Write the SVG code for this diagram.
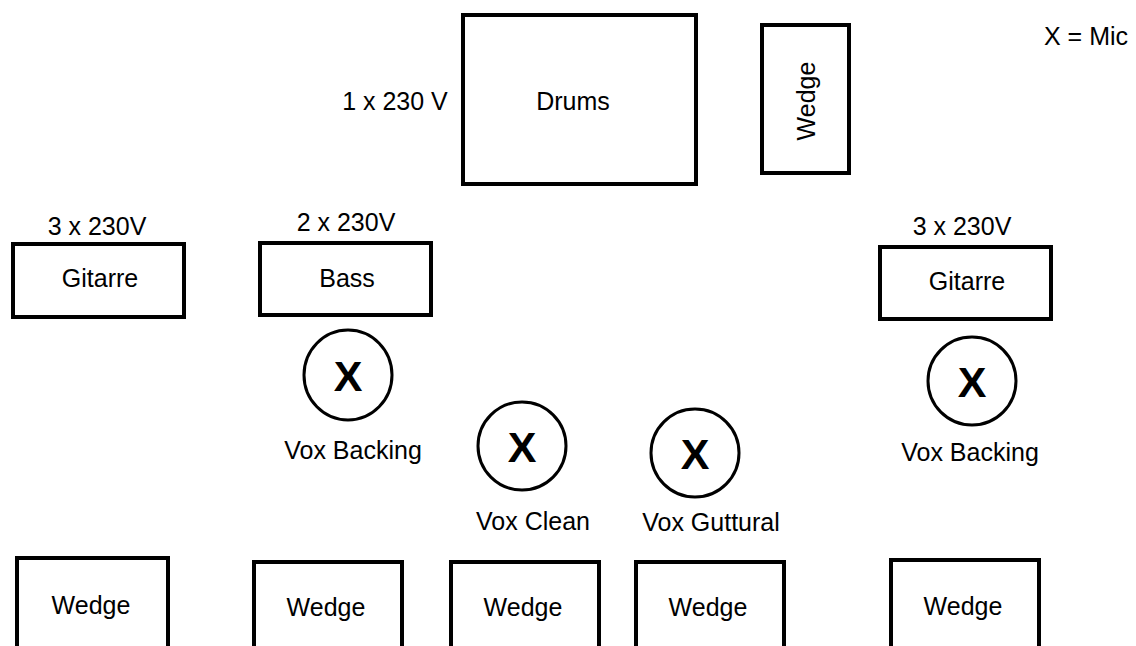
<svg xmlns="http://www.w3.org/2000/svg" width="1136" height="646" viewBox="0 0 1136 646">
<style>
.box{fill:#fff;stroke:#000;stroke-width:4}
.mic{fill:#fff;stroke:#000;stroke-width:3}
text{font-family:"Liberation Sans",Arial,sans-serif;font-size:25px;fill:#000;text-anchor:middle}
.x{font-weight:bold;font-size:43px}
</style>
<rect width="1136" height="646" fill="#fff"/>
<g id="connectors"></g>
<g id="drums"><rect class="box" x="463" y="15" width="233" height="169"/><text x="573" y="110">Drums</text></g>
<g id="drums-power"><text x="395" y="110">1 x 230 V</text></g>
<g id="wedge-drums"><rect class="box" x="762" y="25" width="87" height="148"/><text transform="translate(806,101) rotate(-90)" x="0" y="9">Wedge</text></g>
<g id="legend"><text x="1086" y="45">X = Mic</text></g>
<g id="gitarre-left"><text x="97" y="235">3 x 230V</text><rect class="box" x="13" y="244" width="171" height="73"/><text x="100" y="287">Gitarre</text></g>
<g id="bass"><text x="346" y="231">2 x 230V</text><rect class="box" x="260" y="243" width="171" height="72"/><text x="347" y="287">Bass</text></g>
<g id="gitarre-right"><text x="962" y="235">3 x 230V</text><rect class="box" x="880" y="247" width="171" height="72"/><text x="967" y="290">Gitarre</text></g>
<g id="mic-backing-left"><ellipse class="mic" cx="348" cy="375" rx="44" ry="45"/><text class="x" x="348" y="391">X</text><text x="353" y="459">Vox Backing</text></g>
<g id="mic-clean"><ellipse class="mic" cx="522" cy="446" rx="44" ry="44"/><text class="x" x="522" y="462">X</text><text x="533" y="530">Vox Clean</text></g>
<g id="mic-guttural"><ellipse class="mic" cx="695" cy="453" rx="44" ry="44"/><text class="x" x="695" y="469">X</text><text x="711" y="531">Vox Guttural</text></g>
<g id="mic-backing-right"><ellipse class="mic" cx="972" cy="381" rx="44" ry="44"/><text class="x" x="972" y="397">X</text><text x="970" y="461">Vox Backing</text></g>
<g id="wedge-1"><rect class="box" x="17" y="558" width="151" height="100"/><text x="91" y="614">Wedge</text></g>
<g id="wedge-2"><rect class="box" x="254" y="562" width="148" height="100"/><text x="326" y="616">Wedge</text></g>
<g id="wedge-3"><rect class="box" x="451" y="562" width="148" height="100"/><text x="523" y="616">Wedge</text></g>
<g id="wedge-4"><rect class="box" x="636" y="562" width="148" height="100"/><text x="708" y="616">Wedge</text></g>
<g id="wedge-5"><rect class="box" x="891" y="560" width="148" height="100"/><text x="963" y="615">Wedge</text></g>
</svg>
